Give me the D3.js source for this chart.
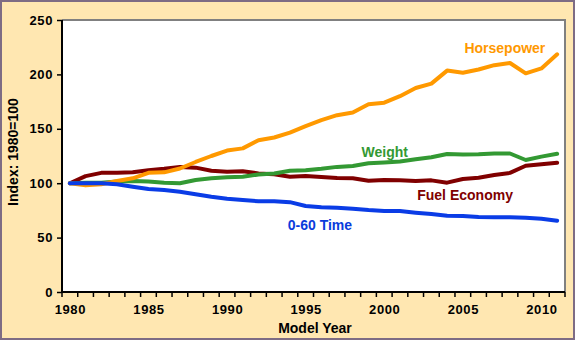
<!DOCTYPE html>
<html>
<head>
<meta charset="utf-8">
<script src="https://cdn.jsdelivr.net/npm/d3@7"></script>
<style>
  html, body { margin: 0; padding: 0; background: #fff; }
  svg { display: block; font-family: "Liberation Sans", Arial, sans-serif; }
</style>
</head>
<body>
<svg id="chart" width="575" height="340"></svg>
<script>
// Model years 1980–2011, indexed so 1980 = 100
const years = d3.range(1980, 2012);
const horsepower = [100, 98, 99, 102, 104.5, 109.5, 110, 113.5, 119.5, 125, 130,
  132, 139.5, 142, 146.5, 152.5, 158, 162.5, 165, 172.5, 174,
  180, 187.5, 191.5, 203.5, 201.5, 204.5, 208.5, 210.5, 201, 205.5, 218.5];
const weight = [100, 100.5, 100.5, 101.5, 102, 101.5, 100.5, 100, 103, 104.5, 105.5,
  106, 108, 109, 111.5, 112, 113.3, 115, 115.8, 118.3, 119,
  120, 122, 123.8, 126.8, 126.3, 126.5, 127.3, 127.3, 121.3, 124.4, 127];
const fuelEconomy = [100, 106.5, 109.5, 109.5, 110, 112, 113.3, 115, 114.3, 111.5, 110.5,
  111, 109, 108.2, 106, 106.6, 105.7, 104.8, 104.5, 102.2, 103,
  102.8, 102, 102.6, 100.5, 103.9, 105, 107.5, 109.5, 116, 117.5, 118.8];
const zeroToSixty = [100, 100, 100, 99, 96.8, 94.7, 93.7, 92.2, 89.8, 87.6, 85.8,
  84.6, 83.4, 83.4, 82.6, 79, 77.8, 77.5, 76.6, 75.3, 74.4,
  74.4, 72.9, 71.7, 70.1, 69.9, 68.9, 68.6, 68.6, 68.3, 67.4, 65.5];
const yTicks = [0, 50, 100, 150, 200, 250];
const xTickYears = [1980, 1985, 1990, 1995, 2000, 2005, 2010];

const seriesNames = ["Fuel Economy", "Weight", "Horsepower", "0-60 Time"];
const seriesValues = [fuelEconomy, weight, horsepower, zeroToSixty];
const seriesColors = ["#800000", "#339933", "#FF9900", "#0A3CE6"];
const labelColors = ["#800000", "#339933", "#FF9900", "#0A3CDC"];
// label anchor (start of text): year and index value of the baseline
const labelAt = [
  { x: 2002.1, y: 85 },
  { x: 1998.56, y: 124.4 },
  { x: 2005.1, y: 220 },
  { x: 1993.86, y: 57 }
];

const W = 575, H = 340;
const plot = { left: 62, right: 565, top: 20, bottom: 292 };

const svg = d3.select("#chart");

// panel background and border
svg.append("rect")
  .attr("x", 1).attr("y", 1).attr("width", W - 2).attr("height", H - 2)
  .attr("fill", "#FFE7B1").attr("stroke", "#7E6C84").attr("stroke-width", 2);

const x = d3.scaleBand().domain(years).range([plot.left, plot.right]).padding(0);
const xc = yr => x(yr) + x.bandwidth() / 2;
const xLin = d3.scaleLinear().domain([1980, 2011]).range([xc(1980), xc(2011)]);
const y = d3.scaleLinear().domain([0, 250]).range([plot.bottom, plot.top]);

// plot area
svg.append("rect")
  .attr("x", plot.left).attr("y", plot.top)
  .attr("width", plot.right - plot.left).attr("height", plot.bottom - plot.top)
  .attr("fill", "#fff");

// gray frame on top and right
svg.append("path")
  .attr("d", `M${plot.left},${plot.top}H${plot.right}V${plot.bottom}`)
  .attr("fill", "none").attr("stroke", "#808080").attr("stroke-width", 2);

// lines
const line = d3.line().x((d, i) => xc(years[i])).y(d => y(d));
seriesValues.forEach((vals, k) => {
  svg.append("path")
    .datum(vals)
    .attr("d", line)
    .attr("fill", "none")
    .attr("stroke", seriesColors[k])
    .attr("stroke-width", 4)
    .attr("stroke-linejoin", "round")
    .attr("stroke-linecap", "round");
});

// Y axis
const yAxis = d3.axisLeft(y).tickValues(yTicks).tickSize(5).tickPadding(4);
const gy = svg.append("g").attr("transform", `translate(${plot.left},0)`).call(yAxis);
gy.select(".domain").remove();
gy.selectAll(".tick line").attr("stroke", "#000").attr("stroke-width", 1.5);
gy.selectAll(".tick text")
  .attr("fill", "#000").attr("font-size", 13).attr("font-weight", "bold")
  .attr("font-family", "Liberation Sans, Arial, sans-serif")
  .style("letter-spacing", "0.6px");

// X axis: ticks at category boundaries, labels at category centres
const boundaries = years.map(yr => x(yr)).concat([plot.right]);
const gx = svg.append("g");
gx.selectAll("line.tk").data(boundaries).enter().append("line")
  .attr("class", "tk")
  .attr("x1", d => d).attr("x2", d => d)
  .attr("y1", plot.bottom).attr("y2", plot.bottom + 5)
  .attr("stroke", "#000").attr("stroke-width", 1.5);
const xAxis = d3.axisBottom(d3.scaleLinear().domain(xLin.domain()).range(xLin.range()))
  .tickValues(xTickYears).tickFormat(d3.format("d")).tickSize(0).tickPadding(13);
const gxl = svg.append("g").attr("transform", `translate(0,${plot.bottom})`).call(xAxis);
gxl.select(".domain").remove();
gxl.selectAll(".tick text")
  .attr("fill", "#000").attr("font-size", 13).attr("font-weight", "bold")
  .attr("font-family", "Liberation Sans, Arial, sans-serif")
  .style("letter-spacing", "0.6px");

// axis lines (left and bottom)
svg.append("path")
  .attr("d", `M${plot.left},${plot.top}V${plot.bottom}H${plot.right}`)
  .attr("fill", "none").attr("stroke", "#000").attr("stroke-width", 2);

// axis titles
svg.append("text")
  .attr("transform", `translate(18,152) rotate(-90)`)
  .attr("text-anchor", "middle")
  .attr("font-size", 14).attr("font-weight", "bold")
  .text("Index: 1980=100");
svg.append("text")
  .attr("x", 315).attr("y", 333)
  .attr("text-anchor", "middle")
  .attr("font-size", 14).attr("font-weight", "bold")
  .text("Model Year");

// series labels
seriesNames.forEach((name, k) => {
  const p = labelAt[k];
  svg.append("text")
    .attr("x", xLin(p.x)).attr("y", y(p.y))
    .attr("text-anchor", "start")
    .attr("fill", labelColors[k])
    .attr("font-size", 14).attr("font-weight", "bold")
    .text(name);
});
</script>
</body>
</html>
